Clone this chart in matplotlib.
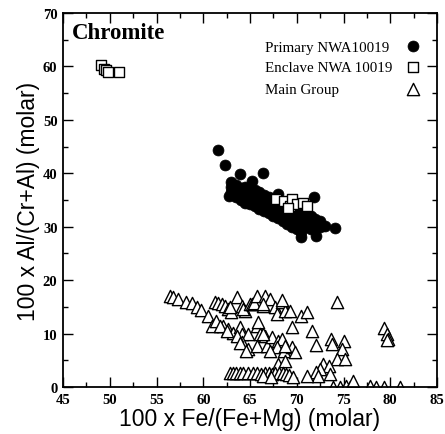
import matplotlib
matplotlib.use("Agg")
import matplotlib.pyplot as plt
from matplotlib.ticker import MultipleLocator

# Primary NWA10019 (filled circles)
primary_x = [61.6, 62.3, 63.9, 65.2, 66.4, 63.0, 62.8, 71.8, 73.0, 74.1, 72.1, 70.5, 68.0,
             63.0, 63.0, 63.5, 63.5, 63.5, 64.0, 64.0, 64.0, 64.5, 64.5, 64.5, 64.5,
             65.0, 65.0, 65.0, 65.0, 65.5, 65.5, 65.5, 65.5, 66.0, 66.0, 66.0, 66.0,
             66.5, 66.5, 66.5, 66.5, 67.0, 67.0, 67.0, 67.0, 67.5, 67.5, 67.5, 67.5,
             68.0, 68.0, 68.0, 68.0, 68.5, 68.5, 68.5, 68.5, 69.0, 69.0, 69.0, 69.0,
             69.5, 69.5, 69.5, 69.5, 70.0, 70.0, 70.0, 70.0, 70.5, 70.5, 70.5, 70.5,
             71.0, 71.0, 71.0, 71.5, 71.5, 71.5, 72.0, 72.0, 72.0, 72.5, 72.5]
primary_y = [44.4, 41.5, 39.9, 38.6, 40.0, 38.3, 35.8, 35.5, 30.1, 29.7, 28.2, 28.0, 36.1,
             37.5, 36.5, 37.8, 36.8, 35.5, 37.2, 36.0, 35.0, 37.5, 36.3, 35.2, 34.5,
             37.0, 36.0, 35.0, 34.2, 36.8, 35.6, 34.5, 33.8, 36.5, 35.4, 34.2, 33.3,
             36.0, 35.0, 34.0, 33.0, 35.5, 34.5, 33.5, 32.6, 35.2, 34.0, 33.0, 32.0,
             34.8, 33.6, 32.5, 31.6, 34.3, 33.2, 32.0, 31.0, 33.8, 32.8, 31.5, 30.5,
             33.3, 32.3, 31.0, 30.0, 33.0, 31.8, 30.5, 29.5, 32.6, 31.3, 30.2, 29.0,
             32.5, 31.0, 30.0, 32.0, 30.8, 29.6, 31.5, 30.5, 29.5, 31.0, 30.0]

# Enclave NWA 10019 (open squares)
enclave_x = [49.1, 49.4, 49.6, 49.8, 51.0,
             67.8, 68.6, 69.3, 69.5, 70.0, 70.7, 71.1, 69.1]
enclave_y = [60.3, 59.6, 59.4, 59.0, 59.0,
             35.1, 34.9, 33.9, 35.1, 34.2, 34.4, 33.8, 33.5]

# Main Group (open triangles)
main_x = [56.4, 56.8, 57.3, 58.2, 58.8, 59.3, 59.8, 60.5, 60.9, 61.4, 61.3, 61.6, 62.0,
          62.3, 62.7, 63.0, 63.6, 64.1, 64.5, 62.9, 64.3, 65.0, 65.2, 65.4, 65.7, 66.4,
          66.6, 67.1, 67.7, 67.9, 68.4, 68.7, 69.3, 68.4, 66.4,
          62.1, 62.7, 63.2, 63.9, 64.1, 64.8, 64.1, 64.8, 65.7, 65.9, 66.1, 66.6, 65.7,
          66.8, 67.3, 68.0, 68.4, 67.9, 68.6, 69.5, 69.8, 69.5, 68.0, 68.7, 61.8, 62.5,
          63.6, 63.9, 64.6, 66.4, 67.1, 68.7,
          70.5, 71.1, 71.6, 72.1, 73.7, 73.8, 75.0, 74.8, 74.3, 75.2, 74.3, 72.8, 73.4,
          72.5, 73.6, 72.1, 72.3, 71.1, 79.3, 79.6, 79.8, 79.7,
          62.9, 63.2, 63.5, 63.9, 64.3, 64.8, 65.3, 65.8, 66.2, 66.6, 67.0, 67.3, 67.7,
          68.1, 68.5, 68.9, 69.2, 69.6, 66.4, 67.2,
          73.9, 74.6, 75.3, 75.7, 76.0, 77.8, 78.5, 79.3, 81.0]
main_y = [17.0, 16.8, 16.5, 16.0, 15.7, 14.9, 14.5, 13.3, 11.5, 12.4, 15.9, 15.7, 15.5,
          15.2, 14.6, 14.0, 16.8, 15.2, 14.3, 14.9, 14.6, 15.5, 15.5, 15.8, 17.1, 15.2,
          17.1, 16.5, 14.9, 13.7, 15.9, 14.3, 14.3, 16.2, 15.5,
          11.5, 10.9, 10.2, 11.2, 9.9, 9.9, 8.4, 7.1, 11.5, 12.1, 9.9, 9.6, 7.7,
          7.7, 9.3, 8.7, 9.0, 7.4, 6.8, 7.4, 6.5, 11.2, 4.3, 4.9, 11.5, 10.5,
          9.6, 8.2, 6.8, 9.9, 6.8, 7.7,
          13.3, 14.0, 10.5, 7.9, 9.0, 8.0, 8.7, 7.2, 5.2, 5.2, 15.9, 4.3, 4.0,
          3.4, 2.4, 2.9, 2.1, 2.1, 11.0, 9.9, 9.0, 8.8,
          2.6, 2.6, 2.6, 2.6, 2.6, 2.6, 2.6, 2.6, 2.5, 2.6, 2.6, 2.5, 2.6,
          2.6, 2.6, 2.5, 2.3, 1.8, 2.0, 1.9,
          0.0, 0.0, 0.2, 0.0, 1.1, 0.1, 0.0, 0.0, 0.0]

legend_labels = ["Primary NWA10019", "Enclave NWA 10019", "Main Group"]

SERIF = ["Liberation Serif", "DejaVu Serif"]
SANS = ["Liberation Sans", "DejaVu Sans"]

fig = plt.figure(figsize=(4.45, 4.35), dpi=100)
ax = fig.add_axes([63 / 445, 1 - 388 / 435, 374 / 445, 374 / 435])

styles = [
    dict(marker="o", s=62, facecolor="black", edgecolor="black", linewidth=0.5),
    dict(marker="s", s=52, facecolor="white", edgecolor="black", linewidth=1.0),
    dict(marker="^", s=78, facecolor="white", edgecolor="black", linewidth=1.0),
]

ax.scatter(main_x, main_y, zorder=2, **styles[2])
ax.scatter(primary_x, primary_y, zorder=3, **styles[0])
ax.scatter(enclave_x, enclave_y, zorder=4, **styles[1])

ax.set_xlim(45, 85)
ax.set_ylim(0, 70)
ax.xaxis.set_major_locator(MultipleLocator(5))
ax.xaxis.set_minor_locator(MultipleLocator(2.5))
ax.yaxis.set_major_locator(MultipleLocator(10))
ax.yaxis.set_minor_locator(MultipleLocator(5))
ax.tick_params(which="both", direction="in", top=True, right=True, width=1.0)
ax.tick_params(which="major", length=7, pad=4)
ax.tick_params(which="minor", length=3.5)
for sp in ax.spines.values():
    sp.set_linewidth(1.3)
for lab in ax.get_xticklabels() + ax.get_yticklabels():
    lab.set_family(SERIF)
    lab.set_fontweight("bold")
    lab.set_fontsize(10.5)

ax.set_xlabel("100 x Fe/(Fe+Mg) (molar)", family=SANS, fontsize=16.5, labelpad=1)
ax.set_ylabel("100 x Al/(Cr+Al) (molar)", family=SANS, fontsize=16.5, labelpad=2)

ax.text(0.024, 0.975, "Chromite", transform=ax.transAxes, family=SERIF,
        fontweight="bold", fontsize=16.5, va="top", ha="left")

# legend: labels left-aligned, symbols in a column on the right
row_y = [0.909, 0.853, 0.795]
for lbl, yy, st in zip(legend_labels, row_y, styles):
    ax.text(0.540, yy, lbl, transform=ax.transAxes, family=SERIF, fontsize=10.8,
            va="center", ha="left")
    ax.scatter([0.935], [yy + 0.002], transform=ax.transAxes, clip_on=False,
               zorder=5, **st)

fig.savefig("out.png", dpi=100)
